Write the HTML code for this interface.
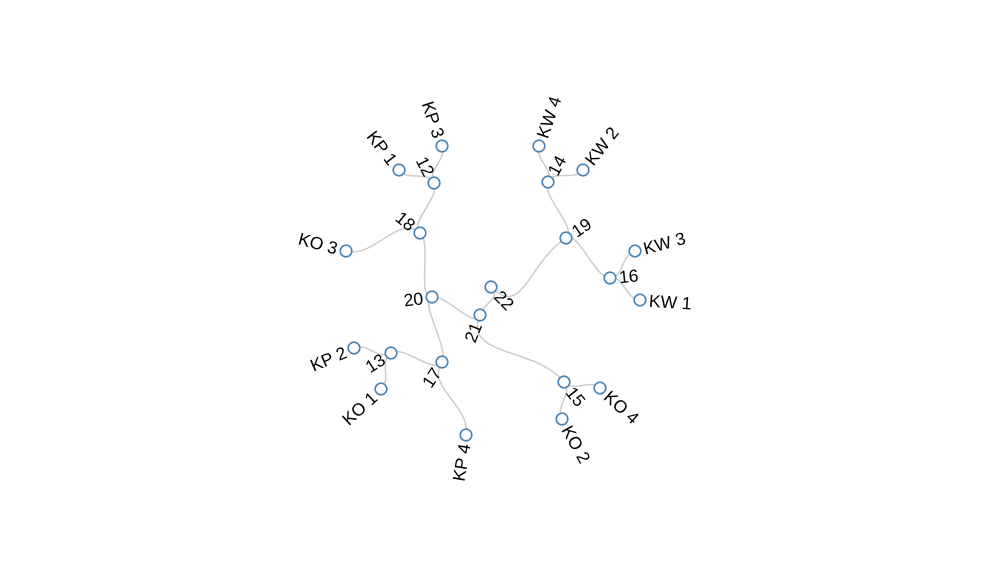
<!DOCTYPE html>
<html><head><meta charset="utf-8"><style>
html,body{margin:0;padding:0;background:#fff;}
svg{display:block;}
text{font-family:"Liberation Sans",sans-serif;font-size:17.5px;fill:#000;}
circle{fill:#fff;stroke:#4682b4;stroke-width:1.6;}
path{fill:none;stroke:#ccc;stroke-width:1.5;}
</style></head><body>
<svg id="s" width="1000" height="580" viewBox="0 0 1000 580">
<g id="links"></g>
<g id="nodes">
<circle cx="491" cy="287" r="5.8"/><circle cx="480" cy="315" r="5.8"/><circle cx="432" cy="297" r="5.8"/>
<circle cx="420" cy="233" r="5.8"/><circle cx="434" cy="183" r="5.8"/><circle cx="399" cy="170" r="5.8"/>
<circle cx="442" cy="146" r="5.8"/><circle cx="346" cy="251" r="5.8"/><circle cx="442" cy="362" r="5.8"/>
<circle cx="391" cy="353" r="5.8"/><circle cx="354" cy="348" r="5.8"/><circle cx="381" cy="389" r="5.8"/>
<circle cx="466" cy="435" r="5.8"/><circle cx="564" cy="382" r="5.8"/><circle cx="600" cy="388" r="5.8"/>
<circle cx="562" cy="419" r="5.8"/><circle cx="566" cy="238" r="5.8"/><circle cx="548" cy="182" r="5.8"/>
<circle cx="539" cy="146" r="5.8"/><circle cx="583" cy="170" r="5.8"/><circle cx="610" cy="278" r="5.8"/>
<circle cx="635" cy="251" r="5.8"/><circle cx="640" cy="300" r="5.8"/>
</g>
<g>
<text transform="translate(491,287) rotate(45)" x="9" dy=".35em">22</text>
<text transform="translate(480,315) rotate(-68.2)" x="-9" dy=".35em" text-anchor="end">21</text>
<text transform="translate(432,297) rotate(-6.9)" x="-9" dy=".35em" text-anchor="end">20</text>
<text transform="translate(420,233) rotate(39.2)" x="-9" dy=".35em" text-anchor="end">18</text>
<text transform="translate(434,183) rotate(62.4)" x="-9" dy=".35em" text-anchor="end">12</text>
<text transform="translate(399,170) rotate(52.8)" x="-9" dy=".35em" text-anchor="end">KP 1</text>
<text transform="translate(442,146) rotate(71.6)" x="-9" dy=".35em" text-anchor="end">KP 3</text>
<text transform="translate(346,251) rotate(15.2)" x="-9" dy=".35em" text-anchor="end">KO 3</text>
<text transform="translate(442,362) rotate(-56.3)" x="-9" dy=".35em" text-anchor="end">17</text>
<text transform="translate(391,353) rotate(-32.5)" x="-9" dy=".35em" text-anchor="end">13</text>
<text transform="translate(354,348) rotate(-23.1)" x="-9" dy=".35em" text-anchor="end">KP 2</text>
<text transform="translate(381,389) rotate(-42.2)" x="-9" dy=".35em" text-anchor="end">KO 1</text>
<text transform="translate(466,435) rotate(-80.6)" x="-9" dy=".35em" text-anchor="end">KP 4</text>
<text transform="translate(564,382) rotate(51.2)" x="9" dy=".35em">15</text>
<text transform="translate(600,388) rotate(41.7)" x="9" dy=".35em">KO 4</text>
<text transform="translate(562,419) rotate(60.8)" x="9" dy=".35em">KO 2</text>
<text transform="translate(566,238) rotate(-34.4)" x="9" dy=".35em">19</text>
<text transform="translate(548,182) rotate(-61.8)" x="9" dy=".35em">14</text>
<text transform="translate(539,146) rotate(-71.2)" x="9" dy=".35em">KW 4</text>
<text transform="translate(583,170) rotate(-52.2)" x="9" dy=".35em">KW 2</text>
<text transform="translate(610,278) rotate(-5.7)" x="9" dy=".35em">16</text>
<text transform="translate(635,251) rotate(-15)" x="9" dy=".35em">KW 3</text>
<text transform="translate(640,300) rotate(3.8)" x="9" dy=".35em">KW 1</text>
</g>
</svg>
<script>
var P={"22":[491,287],"21":[480,315],"20":[432,297],"18":[420,233],"12":[434,183],"KP1":[399,170],"KP3":[442,146],"KO3":[346,251],"17":[442,362],"13":[391,353],"KP2":[354,348],"KO1":[381,389],"KP4":[466,435],"15":[564,382],"KO4":[600,388],"KO2":[562,419],"19":[566,238],"14":[548,182],"KW4":[539,146],"KW2":[583,170],"16":[610,278],"KW3":[635,251],"KW1":[640,300]};
var E=[["22","21"],["22","19"],["21","20"],["21","15"],["20","18"],["20","17"],["18","12"],["18","KO3"],["12","KP1"],["12","KP3"],["17","13"],["17","KP4"],["13","KP2"],["13","KO1"],["15","KO4"],["15","KO2"],["19","14"],["19","16"],["14","KW4"],["14","KW2"],["16","KW3"],["16","KW1"]];
var cx=490,cy=290,g=document.getElementById("links"),d="";
function pol(p){var dx=p[0]-cx,dy=p[1]-cy;return [Math.atan2(dy,dx),Math.sqrt(dx*dx+dy*dy)];}
E.forEach(function(e){var s=P[e[0]],t=P[e[1]],a=pol(s),b=pol(t);
var ocx=cx,ocy=cy;
if(e[0]=="22"){a=[Math.PI/4,0];ocx=s[0];ocy=s[1];b=[Math.atan2(t[1]-ocy,t[0]-ocx),Math.hypot(t[0]-ocx,t[1]-ocy)];}
var m=(a[1]+b[1])/2;
var c1=[ocx+m*Math.cos(a[0]),ocy+m*Math.sin(a[0])],c2=[ocx+m*Math.cos(b[0]),ocy+m*Math.sin(b[0])];
d+='<path d="M'+s[0]+','+s[1]+'C'+c1[0].toFixed(1)+','+c1[1].toFixed(1)+' '+c2[0].toFixed(1)+','+c2[1].toFixed(1)+' '+t[0]+','+t[1]+'"/>';});
g.innerHTML=d;
</script>
</body></html>
